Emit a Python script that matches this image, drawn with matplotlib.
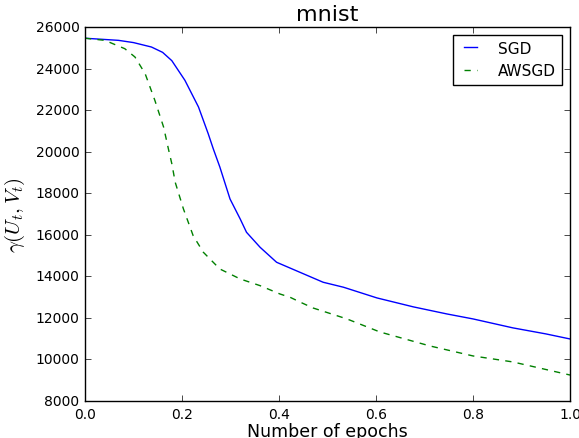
import matplotlib
matplotlib.use("Agg")
import matplotlib.pyplot as plt

plt.style.use('classic')

sgd_x = [0.0, 0.069, 0.1, 0.137, 0.16, 0.179, 0.206, 0.234, 0.254, 0.2646, 0.278, 0.299, 0.32, 0.333, 0.361, 0.395,
         0.443, 0.491, 0.533, 0.602, 0.677, 0.746, 0.8, 0.882, 0.95, 1.0]
sgd_y = [25460, 25358, 25250, 25037, 24780, 24380, 23434, 22150, 20866, 20129, 19263, 17723, 16760, 16120, 15398, 14677,
         14196, 13715, 13475, 12960, 12530, 12190, 11950, 11520, 11230, 10985]

aw_x = [0.0, 0.041, 0.082, 0.103, 0.124, 0.144, 0.162, 0.172, 0.179, 0.186, 0.203, 0.223, 0.244, 0.278,
        0.320, 0.361, 0.402, 0.423, 0.443, 0.47, 0.54, 0.608, 0.711, 0.8, 0.882, 1.0]
aw_y = [25460, 25358, 24957, 24556, 23754, 22472, 21188, 20129, 19422, 18527, 17241, 15957, 15158, 14354,
        13873, 13551, 13150, 12990, 12766, 12478, 11950, 11322, 10650, 10168, 9880, 9250]

fig = plt.figure(figsize=(5.79, 4.39), dpi=100)
fig.patch.set_facecolor('white')
ax = fig.add_axes([0.1468, 0.0843, 0.8377, 0.8519])
ax.plot(sgd_x, sgd_y, 'b-', label='SGD')
ax.plot(aw_x, aw_y, 'g--', dashes=(4.5, 4.5), label='AWSGD')
ax.set_xlim(0, 1.0)
ax.set_ylim(8000, 26000)
ax.set_title('mnist', fontsize=16)
ax.set_xlabel('Number of epochs', fontsize=12.5, labelpad=1)
ax.set_ylabel(r'$\gamma(U_t,V_t)$', fontsize=15, labelpad=6)
ax.tick_params(labelsize=10)
ax.legend(loc='upper right', fontsize=11, handlelength=1.45, handletextpad=1.1)
fig.savefig('out.png', dpi=100, facecolor='white')
